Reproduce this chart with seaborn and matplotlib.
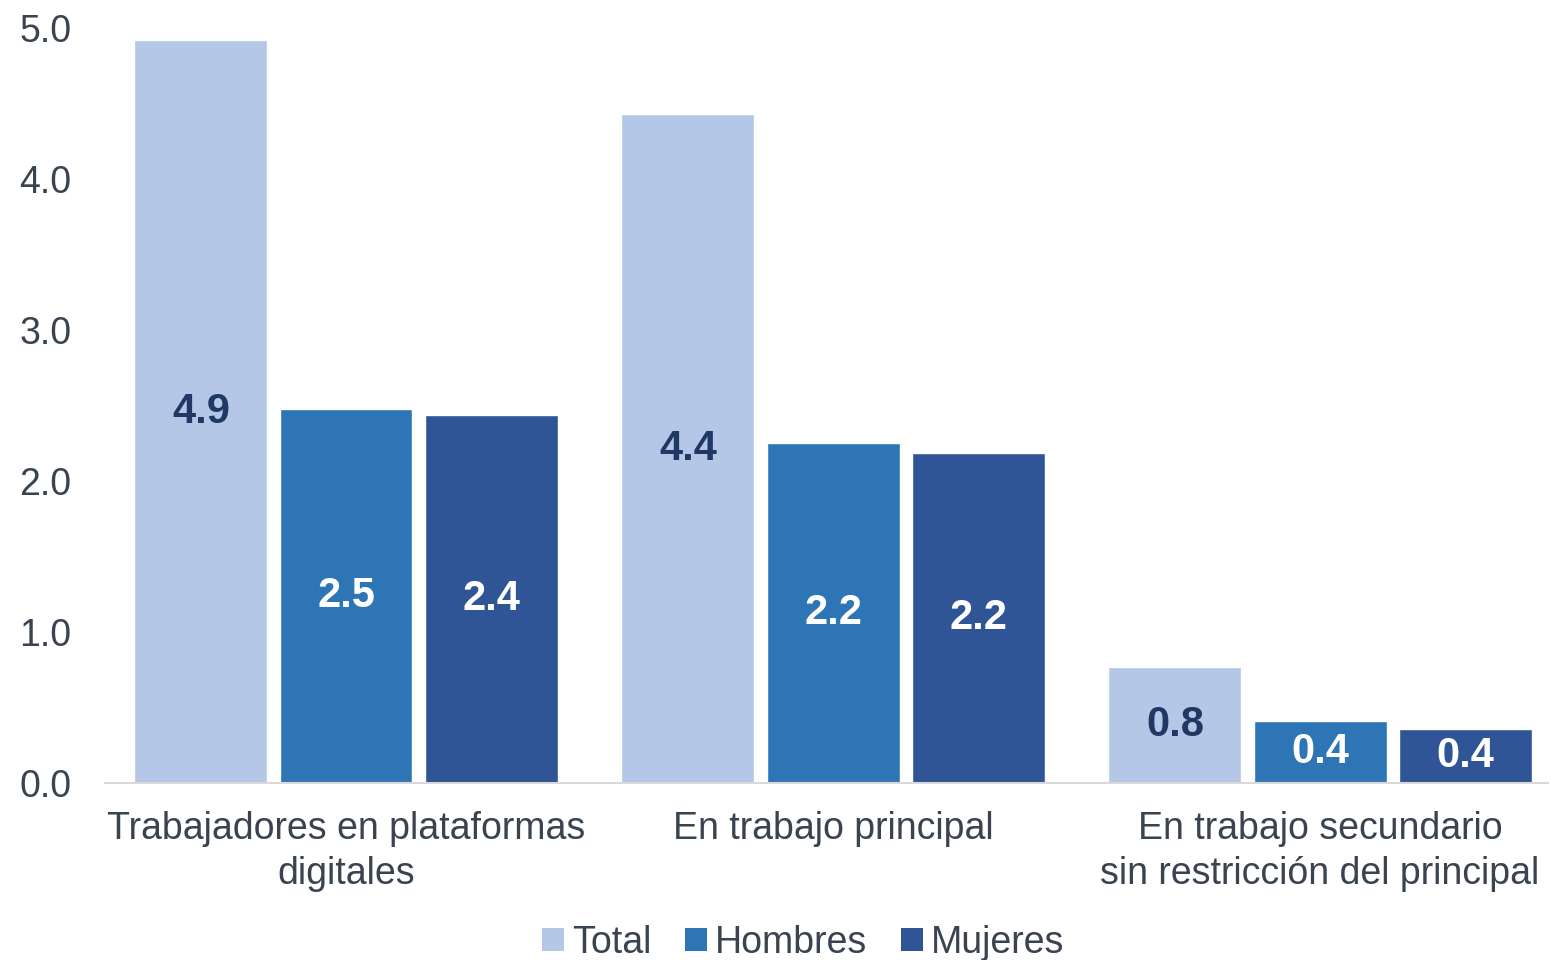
import pandas as pd
import seaborn as sns
import matplotlib.pyplot as plt
from matplotlib.patches import Patch

categorias = [
    'Trabajadores en plataformas\ndigitales',
    'En trabajo principal',
    'En trabajo secundario\nsin restricción del principal',
]
grupos = ['Total', 'Hombres', 'Mujeres']

total = [4.92, 4.43, 0.77]
hombres = [2.48, 2.25, 0.41]
mujeres = [2.44, 2.19, 0.36]

etiquetas_total = ['4.9', '4.4', '0.8']
etiquetas_hombres = ['2.5', '2.2', '0.4']
etiquetas_mujeres = ['2.4', '2.2', '0.4']

y_ticks = [0.0, 1.0, 2.0, 3.0, 4.0, 5.0]

colores = ['#B4C7E7', '#2E75B6', '#2F5597']
color_texto = '#3A4350'

df = pd.DataFrame({
    'categoria': categorias * 3,
    'grupo': [g for g in grupos for _ in categorias],
    'valor': total + hombres + mujeres,
})

sns.set_style('white')
plt.rcParams['font.family'] = ['Liberation Sans', 'DejaVu Sans']

fig, ax_ = plt.subplots(figsize=(15.5, 9.6), dpi=100)
fig.subplots_adjust(left=0.0677, right=0.9987, top=0.9708, bottom=0.184)

sns.barplot(
    data=df, x='categoria', y='valor', hue='grupo',
    hue_order=grupos, order=categorias, palette=colores,
    saturation=1, errorbar=None, width=0.894, gap=0.084, ax=ax_,
)

etiquetas = [etiquetas_total, etiquetas_hombres, etiquetas_mujeres]
colores_etiqueta = ['#203864', 'white', 'white']
for cont, labs, col in zip(ax_.containers, etiquetas, colores_etiqueta):
    ax_.bar_label(cont, labels=labs, label_type='center',
                  fontsize=30, fontweight='bold', color=col)

ax_.set_ylim(0, 5)
ax_.set_xlim(-0.495, 2.468)
ax_.set_yticks(y_ticks)
ax_.set_yticklabels([f'{t:.1f}' for t in y_ticks])
ax_.set_xlabel('')
ax_.set_ylabel('')
ax_.tick_params(axis='y', length=0, pad=24, labelsize=27, labelcolor=color_texto)
ax_.tick_params(axis='x', length=0, pad=20, labelsize=27, labelcolor=color_texto)
for lab in ax_.get_xticklabels():
    lab.set_linespacing(1.3)

for side in ['top', 'right', 'left']:
    ax_.spines[side].set_visible(False)
ax_.spines['bottom'].set_color('#D9D9D9')
ax_.spines['bottom'].set_linewidth(1.5)

if ax_.get_legend() is not None:
    ax_.get_legend().remove()
handles = [Patch(facecolor=c, edgecolor='none', label=g) for c, g in zip(colores, grupos)]
fig.legend(
    handles=handles, loc='center', bbox_to_anchor=(0.518, 0.018), ncol=3,
    frameon=False, fontsize=27, labelcolor=color_texto,
    handlelength=0.6, handleheight=0.6, handletextpad=0.2, columnspacing=0.9,
)

plt.savefig('out.png', dpi=100)
